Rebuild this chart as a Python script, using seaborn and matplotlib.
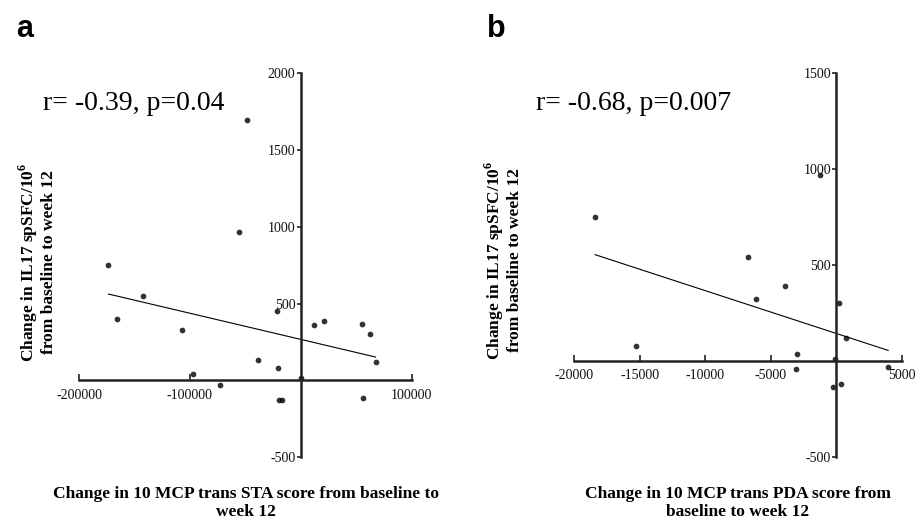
import matplotlib
matplotlib.use("Agg")
import matplotlib.pyplot as plt
import seaborn as sns
import numpy as np

# panel a: change in STA score vs change in IL17 spSFC
sta_change = [-173500, -165500, -142500, -107500, -97500, -72500, -56000, -48500,
              -39000, -21500, -20500, -20000, -17000, 600, 11500, 21000, 55000,
              56000, 62500, 67500]
il17_a = [752, 398, 546, 326, 43, -33, 966, 1692, 130, 452, 82, -126, -126, 13,
          359, 385, 365, -117, 304, 119]

# panel b: change in PDA score vs change in IL17 spSFC
pda_change = [-18400, -15250, -6750, -6150, -3950, -3000, -3050, -1250, -270, -90,
              190, 370, 750, 3950]
il17_b = [750, 77, 544, 323, 393, 36, -40, 967, -133, 9, 302, -121, 118, -33]

stats_a = "r= -0.39, p=0.04"
stats_b = "r= -0.68, p=0.007"
xticks_a = [-200000, -100000, 100000]
yticks_a = [-500, 500, 1000, 1500, 2000]
xticks_b = [-20000, -15000, -10000, -5000, 5000]
yticks_b = [-500, 500, 1000, 1500]

ylab = "Change in IL17 spSFC/10$^{\\mathbf{6}}$\nfrom baseline to week 12"
xlab_a = "Change in 10 MCP trans STA score from baseline to\nweek 12"
xlab_b = "Change in 10 MCP trans PDA score from\nbaseline to week 12"

sns.set_style("ticks")
plt.rcParams["font.family"] = ["Liberation Serif", "DejaVu Serif"]
plt.rcParams["mathtext.fontset"] = "custom"
plt.rcParams["mathtext.bf"] = "Liberation Serif:bold"
plt.rcParams["text.color"] = "black"

fig = plt.figure(figsize=(9.19, 5.26), dpi=100)
ax_a = fig.add_axes([0.086, 0.131, 0.362, 0.730])
ax_b = fig.add_axes([0.6246, 0.131, 0.357, 0.730])


def draw_panel(ax, x, y, xlim, ylim, xticks, yticks):
    sns.regplot(x=x, y=y, ax=ax, ci=None, truncate=True,
                scatter_kws=dict(s=17, color="black", linewidths=0),
                line_kws=dict(color="black", lw=0.8))
    ax.set_xlim(*xlim)
    ax.set_ylim(*ylim)
    ax.set_xticks(xticks)
    ax.set_yticks(yticks)
    ax.set_xticklabels([str(t) for t in xticks], fontweight="bold")
    ax.set_yticklabels([str(t) for t in yticks], fontweight="bold")
    for side in ["top", "right"]:
        ax.spines[side].set_visible(False)
    ax.spines["left"].set_position(("data", 0))
    ax.spines["bottom"].set_position(("data", 0))
    for side in ["left", "bottom"]:
        ax.spines[side].set_linewidth(1.8)
        ax.spines[side].set_color("#222222")
    ax.tick_params(axis="y", direction="out", length=3, width=1.2, pad=1,
                   labelsize=10, labelcolor="#111111", color="#222222")
    ax.tick_params(axis="x", direction="in", length=4, width=1.2, pad=6,
                   labelsize=10, labelcolor="#111111", color="#222222")
    ax.set_xlabel("")
    ax.set_ylabel("")
    ax.patch.set_alpha(0)


draw_panel(ax_a, sta_change, il17_a, (-200000, 100000), (-500, 2000), xticks_a, yticks_a)
draw_panel(ax_b, pda_change, il17_b, (-20000, 5000), (-500, 1500), xticks_b, yticks_b)

# panel letters
fig.text(16 / 919, 1 - 37 / 526, "a", family="Liberation Sans", weight="bold", fontsize=22)
fig.text(487 / 919, 1 - 37 / 526, "b", family="Liberation Sans", weight="bold", fontsize=22)

# correlation text
fig.text(43 / 919, 1 - 110 / 526, stats_a, fontsize=20)
fig.text(536 / 919, 1 - 110 / 526, stats_b, fontsize=20)

# y labels
fig.text(37 / 919, 1 - 262 / 526, ylab, rotation=90, ha="center", va="center",
         weight="bold", fontsize=12.5, linespacing=1.05)
fig.text(503 / 919, 1 - 260 / 526, ylab, rotation=90, ha="center", va="center",
         weight="bold", fontsize=12.5, linespacing=1.05)

# x labels
fig.text(246 / 919, 1 - 503 / 526, xlab_a, ha="center", va="center",
         weight="bold", fontsize=12.5, linespacing=1.2)
fig.text(738 / 919, 1 - 503 / 526, xlab_b, ha="center", va="center",
         weight="bold", fontsize=12.5, linespacing=1.2)

fig.savefig("out.png", dpi=100, facecolor="white")
